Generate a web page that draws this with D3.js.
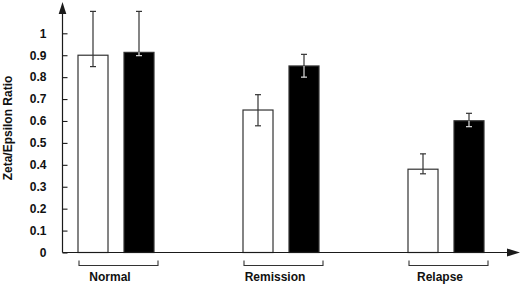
<!DOCTYPE html>
<html>
<head>
<meta charset="utf-8">
<script src="https://cdn.jsdelivr.net/npm/d3@7"></script>
<style>
  body { margin: 0; background: #fff; }
  text { font-family: "Liberation Sans", Arial, Helvetica, sans-serif; font-weight: bold; fill: #111; }
</style>
</head>
<body>
<div id="chart"></div>
<script>
const groups = ["Normal", "Remission", "Relapse"];
const series = ["open", "filled"];
// bar heights, then top and bottom of each error bar, one value per group
const openValues = [0.90, 0.65, 0.38];
const openErrHigh = [1.10, 0.72, 0.45];
const openErrLow = [0.848, 0.578, 0.359];
const filledValues = [0.913, 0.851, 0.601];
const filledErrHigh = [1.10, 0.904, 0.635];
const filledErrLow = [0.898, 0.80, 0.574];
const yTicks = [0, 0.1, 0.2, 0.3, 0.4, 0.5, 0.6, 0.7, 0.8, 0.9, 1];

const width = 520, height = 284;
const ink = "#1a1a1a";

const svg = d3.select("#chart").append("svg")
    .attr("width", width)
    .attr("height", height);

const y = d3.scaleLinear().domain([0, 1]).range([252.5, 33.3]);
const x = d3.scalePoint().domain(groups).range([116, 446]);
const xInner = d3.scaleBand().domain(series).range([-38.5, 38.5]).paddingInner(0.326);

const axisX = 62.5;

// rows built from the arrays
const data = [];
groups.forEach((g, i) => {
    data.push({ group: g, key: "open", value: openValues[i], hi: openErrHigh[i], lo: openErrLow[i] });
    data.push({ group: g, key: "filled", value: filledValues[i], hi: filledErrHigh[i], lo: filledErrLow[i] });
});

const centre = d => x(d.group) + xInner(d.key) + xInner.bandwidth() / 2;

// upper whiskers (behind the bars)
const err = svg.append("g").attr("stroke", "#333").attr("stroke-width", 1.2);
data.forEach(d => {
    const cx = centre(d);
    err.append("line").attr("x1", cx).attr("x2", cx).attr("y1", y(d.hi)).attr("y2", y(d.value));
    err.append("line").attr("x1", cx - 3).attr("x2", cx + 3).attr("y1", y(d.hi)).attr("y2", y(d.hi));
});

// bars
svg.append("g").selectAll("rect")
    .data(data)
    .join("rect")
    .attr("x", d => x(d.group) + xInner(d.key) + 0.5)
    .attr("y", d => y(d.value))
    .attr("width", xInner.bandwidth() - 1)
    .attr("height", d => y(0) - y(d.value))
    .attr("fill", d => d.key === "open" ? "#fff" : "#000")
    .attr("stroke", "#333")
    .attr("stroke-width", 1.2);

// lower whiskers over the bars: dark on white, light on black
data.forEach(d => {
    const cx = centre(d);
    const col = d.key === "open" ? "#333" : "#ddd";
    svg.append("line").attr("x1", cx).attr("x2", cx).attr("y1", y(d.value)).attr("y2", y(d.lo))
        .attr("stroke", col).attr("stroke-width", 1.2);
    svg.append("line").attr("x1", cx - 3).attr("x2", cx + 3).attr("y1", y(d.lo)).attr("y2", y(d.lo))
        .attr("stroke", col).attr("stroke-width", 1.2);
});

// y axis with inward ticks
const yAxis = svg.append("g")
    .attr("transform", `translate(${axisX},0)`)
    .call(d3.axisRight(y).tickValues(yTicks).tickSize(5).tickFormat(d3.format("~g")));
yAxis.select(".domain").remove();
yAxis.selectAll(".tick line").attr("stroke", ink).attr("stroke-width", 1.1);
yAxis.selectAll(".tick text")
    .attr("x", -16)
    .attr("text-anchor", "end")
    .style("font-size", "12px")
    .style("font-family", "'Liberation Sans', Arial, sans-serif")
    .style("font-weight", "bold")
    .attr("fill", ink);

svg.append("line")
    .attr("x1", axisX).attr("x2", axisX)
    .attr("y1", y(0)).attr("y2", 12)
    .attr("stroke", ink).attr("stroke-width", 1.2);
svg.append("path")
    .attr("d", `M${axisX},2 L${axisX - 3.8},14 L${axisX + 3.8},14 Z`)
    .attr("fill", ink);

// x axis line with arrow
svg.append("line")
    .attr("x1", axisX).attr("x2", 510)
    .attr("y1", y(0)).attr("y2", y(0))
    .attr("stroke", ink).attr("stroke-width", 1.2);
svg.append("path")
    .attr("d", `M520,${y(0)} L507,${y(0) - 4} L507,${y(0) + 4} Z`)
    .attr("fill", ink);

// group brackets and labels
const brackets = svg.append("g").attr("fill", "none").attr("stroke", "#333").attr("stroke-width", 1.1);
groups.forEach(g => {
    const c = x(g);
    brackets.append("path")
        .attr("d", `M${c - 37},260.5 V265.5 H${c + 42} V260.5`);
    svg.append("text")
        .attr("x", c - 6)
        .attr("y", 281)
        .attr("text-anchor", "middle")
        .style("font-size", "12px")
        .text(g);
});

// y axis title
svg.append("text")
    .attr("transform", "translate(11.5,128) rotate(-90)")
    .attr("text-anchor", "middle")
    .style("font-size", "12px")
    .text("Zeta/Epsilon Ratio");
</script>
</body>
</html>
